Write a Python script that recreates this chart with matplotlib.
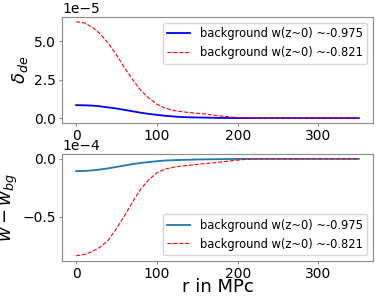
import matplotlib
matplotlib.use("Agg")
import matplotlib.pyplot as plt
import numpy as np

# radius grid (MPc)
r = np.arange(0, 360, 10)

# delta_de, units of 1e-5
delta_975 = [0.84, 0.83, 0.81, 0.76, 0.69, 0.62, 0.53, 0.44, 0.35, 0.27,
             0.21, 0.15, 0.11, 0.07, 0.05, 0.04, 0.03, 0.02, 0.01, 0.005,
             0, 0, 0, 0, 0, 0, 0, 0, 0, 0, 0, 0, 0, 0, 0, 0]
delta_821 = [6.25, 6.18, 5.90, 5.45, 4.85, 4.10, 3.25, 2.50, 1.80, 1.30,
             0.90, 0.65, 0.50, 0.42, 0.36, 0.31, 0.26, 0.19, 0.13, 0.08,
             0.03, 0.01, 0, 0, 0, 0, 0, 0, 0, 0, 0, 0, 0, 0, 0, 0]

# w - w_bg, units of 1e-4
dw_975 = [-0.106, -0.104, -0.099, -0.091, -0.081, -0.069, -0.057, -0.045,
          -0.035, -0.027, -0.020, -0.014, -0.011, -0.009, -0.007, -0.005,
          -0.004, -0.003, -0.002, -0.001, 0, 0, 0, 0, 0, 0, 0, 0, 0, 0,
          0, 0, 0, 0, 0, 0]
dw_821 = [-0.836, -0.825, -0.80, -0.76, -0.70, -0.60, -0.49, -0.37, -0.26,
          -0.18, -0.12, -0.088, -0.072, -0.062, -0.055, -0.047, -0.040,
          -0.034, -0.026, -0.018, -0.010, -0.004, 0, 0, 0, 0, 0, 0, 0, 0,
          0, 0, 0, 0, 0, 0]

labels = ["background w(z~0) ~-0.975", "background w(z~0) ~-0.821"]

plt.rcParams["font.size"] = 10
fig = plt.figure(figsize=(3.79, 3.03), dpi=100)
ax1 = fig.add_axes([0.1636, 0.594, 0.8204, 0.350])
ax2 = fig.add_axes([0.1636, 0.139, 0.8204, 0.353])

# top panel
ax1.plot(r, np.array(delta_975) * 1e-5, color="blue", lw=1.3, label=labels[0])
ax1.plot(r, np.array(delta_821) * 1e-5, color="red", ls="--", lw=0.8, label=labels[1])
ax1.set_ylabel(r"$\delta_{de}$", fontsize=13)
ax1.yaxis.set_label_coords(-0.103, 0.5)
ax1.set_ylim(-0.32e-5, 6.56e-5)
ax1.set_yticks([0, 2.5e-5, 5e-5])
ax1.ticklabel_format(axis="y", style="sci", scilimits=(-5, -5))
ax1.legend(loc="upper right", fontsize=8.3)

# bottom panel
ax2.plot(r, np.array(dw_975) * 1e-4, color="C0", lw=1.3, label=labels[0])
ax2.plot(r, np.array(dw_821) * 1e-4, color="red", ls="--", lw=0.8, label=labels[1])
ax2.set_ylabel(r"$w - w_{bg}$", fontsize=13)
ax2.yaxis.set_label_coords(-0.135, 0.5)
ax2.set_xlabel("r in MPc", fontsize=13, labelpad=-2)
ax2.set_ylim(-0.88e-4, 0.043e-4)
ax2.set_yticks([-0.5e-4, 0])
ax2.ticklabel_format(axis="y", style="sci", scilimits=(-4, -4))
ax2.legend(loc="lower right", fontsize=8.3)

for ax in (ax1, ax2):
    ax.set_xticks([0, 100, 200, 300])
    for s in ax.spines.values():
        s.set_color("0.55")
    ax.tick_params(color="0.55", length=2.5, pad=2)

fig.savefig("out.png", dpi=100)
